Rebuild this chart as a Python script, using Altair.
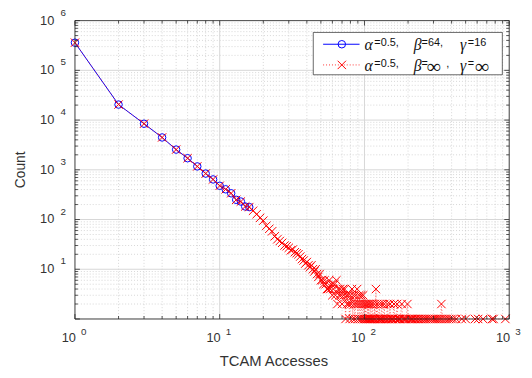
import altair as alt
import pandas as pd

# ---------------- data ----------------
blue_x = [1, 2, 3, 4, 5, 6, 7, 8, 9, 10, 11, 12, 13, 14, 15, 16]
blue_y = [360000, 20500, 8450, 4470, 2550, 1710, 1170, 840, 640, 477, 405, 337, 249, 230, 183, 178]

red_x = [1, 2, 3, 4, 5, 6, 7, 8, 9, 10, 11, 12, 13, 14, 15, 16,
         17, 18, 19, 20, 21, 22, 23, 24, 25, 26, 27, 28, 29, 30, 31, 32, 33, 34, 35, 36,
         37, 38, 39, 40, 41, 42, 43, 44, 45, 46, 47, 48, 49, 50, 51, 52, 53, 54, 55, 56,
         57, 58, 59, 60, 61, 62, 63, 64, 65, 66, 67, 68, 69, 70, 71, 72, 73, 74, 75, 76,
         77, 78, 79, 80, 81, 82, 83, 84, 85, 86, 87, 88, 89, 90, 91, 92, 93, 94, 95, 96,
         97, 98, 99, 100, 101, 102, 103, 104, 105, 106, 107, 108, 109, 110, 111, 112, 113, 114, 116, 117,
         118, 120, 121, 122, 124, 125, 127, 128, 130, 132, 133, 135, 137, 138, 140, 142, 144, 146, 148, 150,
         152, 155, 157, 160, 162, 165, 168, 170, 173, 176, 181, 183, 187, 190, 194, 198, 201, 205, 209, 213,
         218, 223, 228, 234, 240, 246, 252, 259, 266, 274, 282, 290, 298, 307, 316, 326, 336, 340, 346, 358,
         370, 384, 398, 412, 430, 470, 500, 580, 610, 660, 760, 780, 940]
red_y = [360000, 20500, 8450, 4470, 2550, 1710, 1170, 840, 640, 477, 405, 337, 249, 230, 183, 178,
         150, 128, 108, 95, 75, 65, 58, 46, 40, 37, 34, 30, 29, 27, 24, 25, 22, 21, 20, 18,
         16, 15, 13, 14, 12, 11, 12, 10, 9, 10, 8, 7, 8, 6, 6, 5, 6, 5, 4, 4,
         6, 4, 5, 3, 4, 5, 3, 6, 2, 4, 3, 4, 3, 2, 4, 3, 4, 1, 3, 2,
         3, 2, 1, 3, 2, 4, 1, 3, 2, 1, 3, 2, 4, 1, 2, 3, 1, 2, 3, 1,
         2, 3, 1, 2, 1, 2, 1, 1, 2, 1, 2, 1, 1, 2, 1, 1, 2, 1, 1, 2,
         1, 4, 1, 2, 1, 1, 2, 1, 1, 2, 1, 1, 2, 1, 1, 1, 2, 1, 1, 2,
         1, 1, 1, 2, 1, 1, 2, 1, 1, 1, 2, 1, 1, 1, 1, 2, 1, 1, 1, 1,
         1, 1, 1, 1, 1, 1, 1, 1, 1, 1, 1, 1, 1, 1, 1, 1, 1, 2, 1, 1,
         1, 1, 1, 1, 1, 1, 1, 1, 1, 1, 1, 1, 1]

x_major = [1, 10, 100, 1000]
x_exp = ["0", "1", "2", "3"]
y_major = [1, 10, 100, 1000, 10000, 100000, 1000000]
y_lab_vals = [10, 100, 1000, 10000, 100000, 1000000]
y_exp = ["1", "2", "3", "4", "5", "6"]
x_minor = [m * d for d in [1, 10, 100] for m in range(2, 10)]
y_minor = [m * d for d in [1, 10, 100, 1000, 10000, 100000] for m in range(2, 10)]

W, H = 441, 303
BLUE = "#0000ff"
RED = "#ff0000"
AX = "#262626"
SANS = "Liberation Sans"
SERIF = "Liberation Serif"

xs = alt.Scale(type="log", domain=[1, 1000], nice=False)
ys = alt.Scale(type="log", domain=[1, 1000000], nice=False)

blue_df = pd.DataFrame({"x": blue_x, "y": blue_y})
red_df = pd.DataFrame({"x": red_x, "y": red_y, "o": list(range(len(red_x)))})
one = pd.DataFrame({"a": [0]})


def vx(field="v"):
    return alt.X(f"{field}:Q", scale=xs, axis=None)


def vy(field="v"):
    return alt.Y(f"{field}:Q", scale=ys, axis=None)


layers = []

# grid
layers.append(alt.Chart(pd.DataFrame({"v": x_minor})).mark_rule(
    stroke="#c4c4c4", strokeWidth=0.7, strokeDash=[1, 2]).encode(
    x=vx(), y=alt.value(0), y2=alt.value(H)))
layers.append(alt.Chart(pd.DataFrame({"v": y_minor})).mark_rule(
    stroke="#c4c4c4", strokeWidth=0.7, strokeDash=[1, 2]).encode(
    y=vy(), x=alt.value(0), x2=alt.value(W)))
layers.append(alt.Chart(pd.DataFrame({"v": x_major})).mark_rule(
    stroke="#d6d6d6", strokeWidth=1).encode(
    x=vx(), y=alt.value(0), y2=alt.value(H)))
layers.append(alt.Chart(pd.DataFrame({"v": y_major})).mark_rule(
    stroke="#d6d6d6", strokeWidth=1).encode(
    y=vy(), x=alt.value(0), x2=alt.value(W)))

# series
layers.append(alt.Chart(blue_df).mark_line(color=BLUE, strokeWidth=1).encode(
    x=vx("x"), y=vy("y")))
layers.append(alt.Chart(blue_df).mark_point(
    shape="circle", filled=False, color=BLUE, size=58, strokeWidth=1, opacity=1).encode(
    x=vx("x"), y=vy("y")))
layers.append(alt.Chart(red_df).mark_line(
    color=RED, strokeWidth=0.6, strokeDash=[1, 2]).encode(
    x=vx("x"), y=vy("y"), order="o:Q"))
layers.append(alt.Chart(red_df).mark_point(
    shape="M-1,-1L1,1M-1,1L1,-1", filled=False, color=RED, size=72,
    strokeWidth=1, opacity=1).encode(x=vx("x"), y=vy("y")))

# frame
layers.append(alt.Chart(one).mark_rect(fill=None, stroke=AX, strokeWidth=0.8).encode(
    x=alt.value(0), x2=alt.value(W), y=alt.value(0), y2=alt.value(H)))

# ticks (inside, all four sides)
for vals, ln in ((x_major, 5), (x_minor, 3)):
    d = pd.DataFrame({"v": vals})
    layers.append(alt.Chart(d).mark_rule(stroke=AX, strokeWidth=0.8).encode(
        x=vx(), y=alt.value(H), y2=alt.value(H - ln)))
    layers.append(alt.Chart(d).mark_rule(stroke=AX, strokeWidth=0.8).encode(
        x=vx(), y=alt.value(0), y2=alt.value(ln)))
for vals, ln in ((y_major, 5), (y_minor, 3)):
    d = pd.DataFrame({"v": vals})
    layers.append(alt.Chart(d).mark_rule(stroke=AX, strokeWidth=0.8).encode(
        y=vy(), x=alt.value(0), x2=alt.value(ln)))
    layers.append(alt.Chart(d).mark_rule(stroke=AX, strokeWidth=0.8).encode(
        y=vy(), x=alt.value(W), x2=alt.value(W - ln)))

# tick labels
xl = pd.DataFrame({"v": x_major, "e": x_exp})
layers.append(alt.Chart(xl).mark_text(
    text="10", font=SANS, fontSize=13, color="#333333", align="right",
    baseline="middle", dx=1).encode(x=vx(), y=alt.value(H + 19)))
layers.append(alt.Chart(xl).mark_text(
    font=SANS, fontSize=10, color="#333333", align="center",
    baseline="middle", dx=9).encode(x=vx(), y=alt.value(H + 13), text="e:N"))
yl = pd.DataFrame({"v": y_lab_vals, "e": y_exp})
layers.append(alt.Chart(yl).mark_text(
    text="10", font=SANS, fontSize=13, color="#333333", align="right",
    baseline="middle").encode(y=vy(), x=alt.value(-21)))
layers.append(alt.Chart(yl).mark_text(
    font=SANS, fontSize=10, color="#333333", align="center",
    baseline="middle", dy=-8).encode(y=vy(), x=alt.value(-12), text="e:N"))

# axis titles
layers.append(alt.Chart(one).mark_text(
    text="TCAM Accesses", font=SANS, fontSize=15, color="#333333",
    align="center", baseline="middle").encode(x=alt.value(202), y=alt.value(H + 43)))
layers.append(alt.Chart(one).mark_text(
    text="Count", font=SANS, fontSize=14, color="#333333", angle=270,
    align="center", baseline="middle").encode(x=alt.value(-55), y=alt.value(H / 2)))

# legend
layers.append(alt.Chart(one).mark_rect(fill="white", stroke=AX, strokeWidth=0.7).encode(
    x=alt.value(242), x2=alt.value(434), y=alt.value(12), y2=alt.value(55)))
layers.append(alt.Chart(one).mark_rule(stroke=BLUE, strokeWidth=1).encode(
    x=alt.value(252), x2=alt.value(289), y=alt.value(24)))
layers.append(alt.Chart(one).mark_point(
    shape="circle", filled=False, color=BLUE, size=58, strokeWidth=1, opacity=1).encode(
    x=alt.value(271), y=alt.value(24)))
layers.append(alt.Chart(one).mark_rule(stroke=RED, strokeWidth=0.8, strokeDash=[1, 2]).encode(
    x=alt.value(252), x2=alt.value(289), y=alt.value(45)))
layers.append(alt.Chart(one).mark_point(
    shape="M-1,-1L1,1M-1,1L1,-1", filled=False, color=RED, size=72,
    strokeWidth=1, opacity=1).encode(x=alt.value(271), y=alt.value(45)))

legend_items = [
    # text, x, y, font, size, style
    ("α", 294, 30, SERIF, 16, "italic"),
    ("=0.5,", 304, 26, SANS, 11, "normal"),
    ("β", 344, 30, SERIF, 16, "italic"),
    ("=64,", 352, 26, SANS, 11, "normal"),
    ("γ", 391, 30, SERIF, 16, "italic"),
    ("=16", 399, 26, SANS, 11, "normal"),
    ("α", 294, 51, SERIF, 16, "italic"),
    ("=0.5,", 304, 47, SANS, 11, "normal"),
    ("β", 344, 51, SERIF, 16, "italic"),
    ("=", 352, 47, SANS, 11, "normal"),
    ("∞", 357, 53, SERIF, 20, "normal"),
    (",", 377, 47, SANS, 11, "normal"),
    ("γ", 391, 51, SERIF, 16, "italic"),
    ("=", 399, 47, SANS, 11, "normal"),
    ("∞", 406, 53, SERIF, 20, "normal"),
]
for t, x, y, f, s, st in legend_items:
    layers.append(alt.Chart(one).mark_text(
        text=t, font=f, fontSize=s, fontStyle=st, color="#111111",
        align="left", baseline="alphabetic").encode(x=alt.value(x), y=alt.value(y)))

chart = alt.layer(*layers).properties(
    width=W, height=H,
    padding={"left": 68, "top": 10, "right": 15, "bottom": 49},
    autosize=alt.AutoSizeParams(type="none"),
).configure_view(stroke=None)

chart.save("out.html", embed_options={"renderer": "svg", "actions": False})
